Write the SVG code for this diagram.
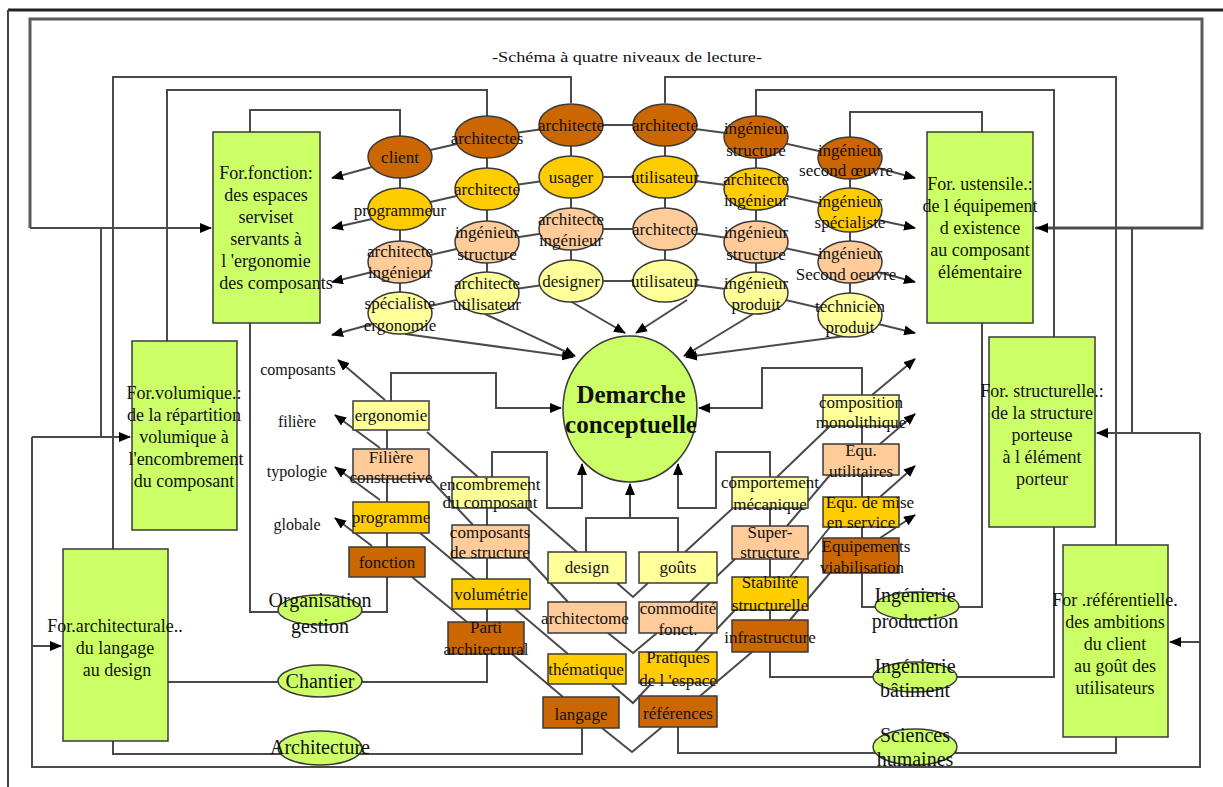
<svg xmlns="http://www.w3.org/2000/svg" width="1223" height="787" viewBox="0 0 1223 787">
<style>
text{font-family:"Liberation Serif","Times New Roman",serif;fill:#111;text-anchor:middle}
.c{fill:none;stroke:#4a4a4a;stroke-width:2}
.f{fill:none;stroke:#5a5a5a;stroke-width:3}
.a{marker-end:url(#ah)}
.g{fill:#ccff66;stroke:#3a3a3a;stroke-width:1.5}
.d{fill:#cc6600;stroke:#3a3a3a;stroke-width:1.5}
.y{fill:#ffcc00;stroke:#3a3a3a;stroke-width:1.5}
.p{fill:#ffcc99;stroke:#3a3a3a;stroke-width:1.5}
.l{fill:#ffff99;stroke:#3a3a3a;stroke-width:1.5}
.t18{font-size:18px}
.t17{font-size:17px}
.t16{font-size:16px}
.t20{font-size:20px}
</style>
<defs>
<marker id="ah" viewBox="0 0 12 10" refX="11" refY="5" markerWidth="12" markerHeight="10" markerUnits="userSpaceOnUse" orient="auto">
<path d="M0,0 L12,5 L0,10 z" fill="#000"/>
</marker>
</defs>
<rect width="1223" height="787" fill="#fff"/>
<g id="frame">
<line x1="8" y1="10" x2="1223" y2="10" stroke="#222" stroke-width="3"/>
<line x1="8" y1="10" x2="8" y2="787" stroke="#444" stroke-width="2"/>
</g>
<text id="title" x="627" y="62" font-size="15" fill="#333" textLength="270" lengthAdjust="spacingAndGlyphs">-Schéma à quatre niveaux de lecture-</text>
<g id="connectors">
<path class="f" d="M30 228 V19 H1202 V228 H1036"/>
<path class="c a" d="M30 228 H211"/>
<path class="c" d="M1036 228 H1035"/>
<path class="c" d="M101 228 V437"/>
<path class="c a" d="M32 437 H130"/>
<path class="c" d="M32 437 V767 H1200 V433"/>
<path class="c a" d="M1200 433 H1097"/>
<path class="c a" d="M32 646 H61"/>
<path class="c" d="M1132 228 V433"/>
<path class="c a" d="M1200 642 H1170"/>
<line x1="1202" y1="228" x2="1037" y2="228" class="c a"/>
<path class="c" d="M665 103 V77 H1116 V545"/>
<path class="c" d="M571 103 V77 H113 V549"/>
<path class="c" d="M487 116 V90 H167 V341"/>
<path class="c" d="M756 116 V90 H1054 V337"/>
<path class="c" d="M400 136 V110 H250 V132"/>
<path class="c" d="M850 137 V112 H982 V132"/>
<path class="c" d="M250 323 V612 H387 V577"/>
<path class="c" d="M168 682 H487 V654"/>
<path class="c" d="M113 741 V754 H582 V728"/>
<path class="c" d="M862 573 V607 H982 V323"/>
<path class="c" d="M770 652 V677 H1054 V527"/>
<path class="c" d="M678 727 V753 H1116 V737"/>
<path class="c a" d="M391 401 V373 H496 V408 H561"/>
<path class="c a" d="M862 395 V368 H762 V408 H699"/>
<path class="c a" d="M492 477 V452 H547 V508 H582 V464"/>
<path class="c a" d="M770 477 V452 H716 V508 H678 V464"/>
<path class="c" d="M586 552 V518 H678 V552"/>
<path class="c a" d="M630 518 V484"/>
<path class="c a" d="M405 334 L573 357"/>
<path class="c a" d="M485 314 L575 356"/>
<path class="c a" d="M570 301 L625 333"/>
<path class="c a" d="M687 300 L636 333"/>
<path class="c a" d="M753 314 L684 356"/>
<path class="c a" d="M845 336 L686 357"/>
<path class="c a" d="M372 167 L332 178"/>
<path class="c a" d="M372 219 L332 228"/>
<path class="c a" d="M372 272 L332 282"/>
<path class="c a" d="M372 324 L332 335"/>
<path class="c a" d="M878 168 L915 178"/>
<path class="c a" d="M878 220 L915 228"/>
<path class="c a" d="M878 272 L915 282"/>
<path class="c a" d="M878 324 L915 333"/>
<path class="c a" d="M385 400 L338 360"/>
<path class="c a" d="M380 448 L335 415"/>
<path class="c a" d="M380 500 L335 467"/>
<path class="c a" d="M372 546 L335 518"/>
<path class="c a" d="M872 395 L915 359"/>
<path class="c a" d="M880 444 L915 414"/>
<path class="c a" d="M880 497 L915 466"/>
<path class="c a" d="M880 538 L915 515"/>
<path class="c" d="M427 432 L478 477 M527 508 L577 552 M429 478 L473 525 M527 558 L568 602 M420 533 L475 579 M515 609 L568 654 M412 577 L467 622 M512 654 L563 697"/>
<path class="c" d="M830 426 L777 477 M733 508 L685 552 M830 475 L787 526 M735 559 L690 602 M830 527 L790 577 M735 610 L695 652 M830 573 L790 620 M752 652 L700 696"/>
<path class="c" d="M617 583 L633 597 L648 583 M608 633 L633 653 L657 633 M612 685 L633 703 L650 685 M602 728 L632 752 L662 727"/>
<path class="c" d="M387 430 V547 M487 508 V622 M770 508 V620 M862 426 V538"/>
<path class="c" d="M400 157 V313 M487 137 V293 M571 125 V281 M665 125 V281 M756 137 V293 M850 158 V315"/>
<path class="c" d="M400 157 L487 137 L571 125 L665 125 L756 137 L850 158"/>
<path class="c" d="M400 209 L487 189 L571 177 L665 177 L756 189 L850 210"/>
<path class="c" d="M400 262 L487 242 L571 229 L665 229 L756 242 L850 262"/>
<path class="c" d="M400 313 L487 293 L571 281 L665 281 L756 293 L850 315"/>
</g>
<g id="for-fonction"><rect class="g" x="213" y="132" width="107" height="191"/>
<text class="t18" x="266" y="179">For.fonction:</text><text class="t18" x="266" y="201">des espaces</text><text class="t18" x="266" y="223">serviset</text><text class="t18" x="266" y="245">servants à</text><text class="t18" x="266" y="267">l 'ergonomie</text><text class="t18" x="276" y="289">des composants</text></g>
<g id="for-ustensile"><rect class="g" x="927" y="132" width="106" height="191"/>
<text class="t18" x="980" y="190">For. ustensile.:</text><text class="t18" x="980" y="212">de l équipement</text><text class="t18" x="980" y="234">d existence</text><text class="t18" x="980" y="256">au composant</text><text class="t18" x="980" y="278">élémentaire</text></g>
<g id="for-volumique"><rect class="g" x="132" y="341" width="105" height="189"/>
<text class="t18" x="184" y="399">For.volumique.:</text><text class="t18" x="184" y="421">de la répartition</text><text class="t18" x="184" y="443">volumique à</text><text class="t18" x="186" y="465">l'encombrement</text><text class="t18" x="184" y="487">du composant</text></g>
<g id="for-architecturale"><rect class="g" x="63" y="549" width="105" height="192"/>
<text class="t18" x="115" y="632">For.architecturale..</text><text class="t18" x="115" y="654">du langage</text><text class="t18" x="117" y="676">au design</text></g>
<g id="for-structurelle"><rect class="g" x="989" y="337" width="106" height="190"/>
<text class="t18" x="1042" y="397">For. structurelle.:</text><text class="t18" x="1042" y="419">de la structure</text><text class="t18" x="1042" y="441">porteuse</text><text class="t18" x="1042" y="463">à l élément</text><text class="t18" x="1042" y="485">porteur</text></g>
<g id="for-referentielle"><rect class="g" x="1063" y="545" width="105" height="192"/>
<text class="t18" x="1115" y="606">For .référentielle.</text><text class="t18" x="1115" y="628">des ambitions</text><text class="t18" x="1115" y="650">du client</text><text class="t18" x="1115" y="672">au goût des</text><text class="t18" x="1115" y="694">utilisateurs</text></g>
<g id="demarche"><ellipse class="g" cx="630" cy="409" rx="67" ry="73"/>
<text x="631" y="403" font-size="25" font-weight="bold">Demarche</text><text x="631" y="433" font-size="25" font-weight="bold">conceptuelle</text></g>
<g id="e-client"><ellipse class="d" cx="400" cy="157" rx="32" ry="21"/><text class="t17" x="400" y="163">client</text></g>
<g id="e-programmeur"><ellipse class="y" cx="400" cy="209" rx="32" ry="21"/><text class="t17" x="400" y="216">programmeur</text></g>
<g id="e-archi-ing-1"><ellipse class="p" cx="400" cy="262" rx="32" ry="21"/><text class="t17" x="400" y="257">architecte</text><text class="t17" x="400" y="278">ingénieur</text></g>
<g id="e-specialiste"><ellipse class="l" cx="400" cy="313" rx="32" ry="21"/><text class="t17" x="400" y="309">spécialiste</text><text class="t17" x="400" y="331">ergonomie</text></g>
<g id="e-architectes"><ellipse class="d" cx="487" cy="137" rx="32" ry="21"/><text class="t17" x="487" y="144">architectes</text></g>
<g id="e-architecte-2"><ellipse class="y" cx="487" cy="189" rx="32" ry="21"/><text class="t17" x="487" y="195">architecte</text></g>
<g id="e-ing-struct-2"><ellipse class="p" cx="487" cy="242" rx="32" ry="21"/><text class="t17" x="487" y="238">ingénieur</text><text class="t17" x="487" y="260">structure</text></g>
<g id="e-archi-util"><ellipse class="l" cx="487" cy="293" rx="32" ry="21"/><text class="t17" x="487" y="289">architecte</text><text class="t17" x="487" y="310">utilisateur</text></g>
<g id="e-architecte-3"><ellipse class="d" cx="571" cy="125" rx="32" ry="21"/><text class="t17" x="571" y="131">architecte</text></g>
<g id="e-usager"><ellipse class="y" cx="571" cy="177" rx="32" ry="21"/><text class="t17" x="571" y="183">usager</text></g>
<g id="e-archi-ing-3"><ellipse class="p" cx="571" cy="229" rx="32" ry="21"/><text class="t17" x="571" y="225">architecte</text><text class="t17" x="571" y="246">ingénieur</text></g>
<g id="e-designer"><ellipse class="l" cx="571" cy="281" rx="32" ry="21"/><text class="t17" x="571" y="287">designer</text></g>
<g id="e-architecte-4"><ellipse class="d" cx="665" cy="125" rx="32" ry="21"/><text class="t17" x="665" y="131">architecte</text></g>
<g id="e-utilisateur-4"><ellipse class="y" cx="665" cy="177" rx="32" ry="21"/><text class="t17" x="665" y="183">utilisateur</text></g>
<g id="e-architecte-4b"><ellipse class="p" cx="665" cy="229" rx="32" ry="21"/><text class="t17" x="665" y="235">architecte</text></g>
<g id="e-utilisateur-4b"><ellipse class="l" cx="665" cy="281" rx="32" ry="21"/><text class="t17" x="665" y="287">utilisateur</text></g>
<g id="e-ing-struct-5"><ellipse class="d" cx="756" cy="137" rx="32" ry="21"/><text class="t17" x="756" y="134">ingénieur</text><text class="t17" x="756" y="156">structure</text></g>
<g id="e-archi-ing-5"><ellipse class="y" cx="756" cy="189" rx="32" ry="21"/><text class="t17" x="756" y="185">architecte</text><text class="t17" x="756" y="206">ingénieur</text></g>
<g id="e-ing-struct-5b"><ellipse class="p" cx="756" cy="242" rx="32" ry="21"/><text class="t17" x="756" y="238">ingénieur</text><text class="t17" x="756" y="260">structure</text></g>
<g id="e-ing-produit"><ellipse class="l" cx="756" cy="293" rx="32" ry="21"/><text class="t17" x="756" y="289">ingénieur</text><text class="t17" x="756" y="310">produit</text></g>
<g id="e-ing-second"><ellipse class="d" cx="850" cy="158" rx="32" ry="21"/><text class="t17" x="850" y="156">ingénieur</text><text class="t17" x="846" y="176">second œuvre</text></g>
<g id="e-ing-specialiste"><ellipse class="y" cx="850" cy="210" rx="32" ry="22"/><text class="t17" x="850" y="207">ingénieur</text><text class="t17" x="850" y="228">spécialiste</text></g>
<g id="e-ing-second-b"><ellipse class="p" cx="850" cy="262" rx="32" ry="21"/><text class="t17" x="850" y="259">ingénieur</text><text class="t17" x="846" y="280">Second oeuvre</text></g>
<g id="e-technicien"><ellipse class="l" cx="850" cy="315" rx="32" ry="22"/><text class="t17" x="850" y="312">technicien</text><text class="t17" x="850" y="333">produit</text></g>
<g id="lbl-left">
<text class="t16" x="298" y="375">composants</text><text class="t16" x="297" y="427">filière</text><text class="t16" x="297" y="477">typologie</text><text class="t16" x="297" y="530">globale</text></g>
<g id="b-ergonomie"><rect class="l" x="353" y="401" width="76" height="29"/><text class="t17" x="391" y="421">ergonomie</text></g>
<g id="b-filiere"><rect class="p" x="353" y="449" width="76" height="30"/><text class="t17" x="391" y="463">Filière</text><text class="t17" x="391" y="483">constructive</text></g>
<g id="b-programme"><rect class="y" x="353" y="502" width="76" height="31"/><text class="t17" x="391" y="523">programme</text></g>
<g id="b-fonction"><rect class="d" x="349" y="547" width="76" height="30"/><text class="t17" x="387" y="568">fonction</text></g>
<g id="b-encombrement"><rect class="l" x="452" y="477" width="77" height="31"/><text class="t17" x="490" y="490">encombrement</text><text class="t17" x="490" y="508">du composant</text></g>
<g id="b-composants"><rect class="p" x="452" y="525" width="77" height="33"/><text class="t17" x="490" y="538">composants</text><text class="t17" x="490" y="558">de structure</text></g>
<g id="b-volumetrie"><rect class="y" x="452" y="579" width="78" height="30"/><text class="t17" x="491" y="600">volumétrie</text></g>
<g id="b-parti"><rect class="d" x="448" y="622" width="76" height="32"/><text class="t17" x="486" y="633">Parti</text><text class="t17" x="486" y="655">architectural</text></g>
<g id="b-design"><rect class="l" x="548" y="552" width="78" height="31"/><text class="t17" x="587" y="573">design</text></g>
<g id="b-gouts"><rect class="l" x="639" y="552" width="78" height="31"/><text class="t17" x="678" y="573">goûts</text></g>
<g id="b-architectome"><rect class="p" x="548" y="602" width="78" height="31"/><text class="t17" x="585" y="624">architectome</text></g>
<g id="b-commodite"><rect class="p" x="639" y="602" width="78" height="31"/><text class="t17" x="678" y="614">commodité</text><text class="t17" x="678" y="635">fonct.</text></g>
<g id="b-thematique"><rect class="y" x="548" y="654" width="78" height="30"/><text class="t17" x="586" y="675">thématique</text></g>
<g id="b-pratiques"><rect class="y" x="639" y="652" width="78" height="31"/><text class="t17" x="678" y="663">Pratiques</text><text class="t17" x="678" y="686">de l 'espace</text></g>
<g id="b-langage"><rect class="d" x="543" y="697" width="76" height="31"/><text class="t17" x="581" y="720">langage</text></g>
<g id="b-references"><rect class="d" x="639" y="696" width="78" height="31"/><text class="t17" x="678" y="719">références</text></g>
<g id="b-comportement"><rect class="l" x="732" y="477" width="76" height="31"/><text class="t17" x="770" y="488">comportement</text><text class="t17" x="770" y="510">mécanique</text></g>
<g id="b-super"><rect class="p" x="732" y="526" width="76" height="33"/><text class="t17" x="770" y="538">Super-</text><text class="t17" x="770" y="558">structure</text></g>
<g id="b-stabilite"><rect class="y" x="732" y="577" width="76" height="33"/><text class="t17" x="770" y="588">Stabilité</text><text class="t17" x="770" y="611">structurelle</text></g>
<g id="b-infrastructure"><rect class="d" x="732" y="620" width="76" height="32"/><text class="t17" x="770" y="643">infrastructure</text></g>
<g id="b-composition"><rect class="l" x="823" y="395" width="76" height="31"/><text class="t17" x="861" y="408">composition</text><text class="t17" x="861" y="428">monolithique</text></g>
<g id="b-equ-util"><rect class="p" x="823" y="444" width="76" height="31"/><text class="t17" x="861" y="456">Equ.</text><text class="t17" x="861" y="477">utilitaires</text></g>
<g id="b-equ-mise"><rect class="y" x="823" y="497" width="76" height="30"/><text class="t17" x="870" y="508">Equ. de mise</text><text class="t17" x="861" y="528">en service</text></g>
<g id="b-equipements"><rect class="d" x="823" y="538" width="76" height="35"/><text class="t17" x="866" y="552">Equipements</text><text class="t17" x="862" y="573">viabilisation</text></g>
<g id="e-organisation"><ellipse class="g" cx="320" cy="610" rx="42" ry="15"/><text class="t20" x="320" y="607">Organisation</text><text class="t20" x="320" y="633">gestion</text></g>
<g id="e-chantier"><ellipse class="g" cx="320" cy="681" rx="42" ry="16"/><text class="t20" x="320" y="688">Chantier</text></g>
<g id="e-architecture"><ellipse class="g" cx="320" cy="748" rx="42" ry="17"/><text class="t20" x="320" y="754">Architecture</text></g>
<g id="e-ing-production"><ellipse class="g" cx="917" cy="606" rx="42" ry="14"/><text class="t20" x="915" y="602">Ingénierie</text><text class="t20" x="915" y="628">production</text></g>
<g id="e-ing-batiment"><ellipse class="g" cx="915" cy="677" rx="42" ry="15"/><text class="t20" x="915" y="673">Ingénierie</text><text class="t20" x="915" y="697">bâtiment</text></g>
<g id="e-sciences"><ellipse class="g" cx="915" cy="747" rx="42" ry="18"/><text class="t20" x="915" y="742">Sciences</text><text class="t20" x="915" y="766">humaines</text></g>
</svg>
